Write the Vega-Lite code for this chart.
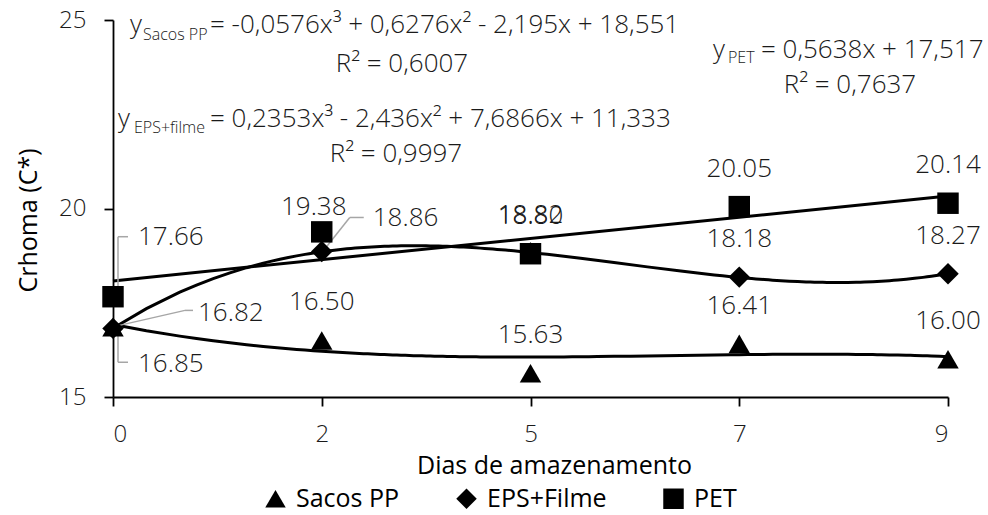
{
  "$schema": "https://vega.github.io/schema/vega-lite/v6.json",
  "width": 835,
  "height": 377,
  "autosize": {"type": "none"},
  "padding": {"left": 113, "top": 20, "right": 40, "bottom": 118},
  "background": "white",
  "config": {
    "view": {"stroke": null},
    "font": "Open Sans",
    "text": {"font": "Open Sans", "fontWeight": 300, "color": "#1a1a1a"},
    "axis": {"labelFont": "Open Sans", "labelFontWeight": 300, "titleFont": "Open Sans"},
    "legend": {"labelFont": "Open Sans"}
  },
  "data": {
    "values": [
      {"Embalagem": "Sacos PP", "Dia": 0, "Croma": 16.85},
      {"Embalagem": "Sacos PP", "Dia": 2, "Croma": 16.50},
      {"Embalagem": "Sacos PP", "Dia": 5, "Croma": 15.63},
      {"Embalagem": "Sacos PP", "Dia": 7, "Croma": 16.41},
      {"Embalagem": "Sacos PP", "Dia": 9, "Croma": 16.00},
      {"Embalagem": "EPS+Filme", "Dia": 0, "Croma": 16.82},
      {"Embalagem": "EPS+Filme", "Dia": 2, "Croma": 18.86},
      {"Embalagem": "EPS+Filme", "Dia": 5, "Croma": 18.82},
      {"Embalagem": "EPS+Filme", "Dia": 7, "Croma": 18.18},
      {"Embalagem": "EPS+Filme", "Dia": 9, "Croma": 18.27},
      {"Embalagem": "PET", "Dia": 0, "Croma": 17.66},
      {"Embalagem": "PET", "Dia": 2, "Croma": 19.38},
      {"Embalagem": "PET", "Dia": 5, "Croma": 18.80},
      {"Embalagem": "PET", "Dia": 7, "Croma": 20.05},
      {"Embalagem": "PET", "Dia": 9, "Croma": 20.14}
    ]
  },
  "transform": [
    {"window": [{"op": "rank", "as": "ordem"}], "sort": [{"field": "Dia", "order": "ascending"}], "groupby": ["Embalagem"]}
  ],
  "encoding": {
    "x": {
      "field": "ordem", "type": "quantitative",
      "scale": {"domain": [1, 5], "nice": false, "zero": false},
      "axis": {
        "values": [1, 2, 3, 4, 5],
        "labelExpr": "['0','2','5','7','9'][datum.value - 1]",
        "title": "Dias de amazenamento",
        "titleFontSize": 25, "titleFontWeight": "normal", "titleColor": "#000000",
        "titleX": 441, "titleY": 76, "titleBaseline": "alphabetic", "titleAlign": "center",
        "labelFontSize": 24, "labelColor": "#1a1a1a", "labelPadding": 16,
        "grid": false, "domainColor": "#000000", "domainWidth": 1.8,
        "tickColor": "#000000", "tickWidth": 1.8, "tickSize": 9
      }
    },
    "y": {
      "field": "Croma", "type": "quantitative",
      "scale": {"domain": [15, 25], "nice": false, "zero": false},
      "axis": {
        "values": [15, 20, 25],
        "title": "Crhoma (C*)",
        "titleFontSize": 25, "titleFontWeight": "normal", "titleColor": "#000000",
        "titleX": -77, "titleY": 200, "titleAngle": -90, "titleBaseline": "alphabetic", "titleAlign": "center",
        "labelFontSize": 24, "labelColor": "#1a1a1a", "labelPadding": 18,
        "grid": false, "domainColor": "#000000", "domainWidth": 1.8,
        "tickColor": "#000000", "tickWidth": 1.8, "tickSize": 9
      }
    }
  },
  "layer": [
    {
      "transform": [
        {"filter": "datum.Embalagem !== 'PET'"},
        {"regression": "Croma", "on": "ordem", "groupby": ["Embalagem"], "method": "poly", "order": 3}
      ],
      "mark": {"type": "line", "color": "#000000", "strokeWidth": 3},
      "encoding": {"detail": {"field": "Embalagem"}}
    },
    {
      "transform": [
        {"filter": "datum.Embalagem === 'PET'"},
        {"regression": "Croma", "on": "ordem", "method": "linear"}
      ],
      "mark": {"type": "line", "color": "#000000", "strokeWidth": 3},
      "encoding": {}
    },
    {
      "transform": [{"filter": "datum.Embalagem === 'PET' && datum.Dia === 0"}],
      "mark": {"type": "rule", "color": "#a6a6a6", "strokeWidth": 1.5, "xOffset": 5, "yOffset": -4, "x2Offset": 5, "y2Offset": -60},
      "encoding": {"x2": {"field": "ordem"}, "y2": {"field": "Croma"}}
    },
    {
      "transform": [{"filter": "datum.Embalagem === 'PET' && datum.Dia === 0"}],
      "mark": {"type": "rule", "color": "#a6a6a6", "strokeWidth": 1.5, "xOffset": 5, "yOffset": -60, "x2Offset": 15, "y2Offset": -60},
      "encoding": {"x2": {"field": "ordem"}, "y2": {"field": "Croma"}}
    },
    {
      "transform": [{"filter": "datum.Embalagem === 'EPS+Filme' && datum.Dia === 0"}],
      "mark": {"type": "rule", "color": "#a6a6a6", "strokeWidth": 1.5, "xOffset": 2, "yOffset": -2, "x2Offset": 72, "y2Offset": -18},
      "encoding": {"x2": {"field": "ordem"}, "y2": {"field": "Croma"}}
    },
    {
      "transform": [{"filter": "datum.Embalagem === 'EPS+Filme' && datum.Dia === 0"}],
      "mark": {"type": "rule", "color": "#a6a6a6", "strokeWidth": 1.5, "xOffset": 72, "yOffset": -18, "x2Offset": 80, "y2Offset": -18},
      "encoding": {"x2": {"field": "ordem"}, "y2": {"field": "Croma"}}
    },
    {
      "transform": [{"filter": "datum.Embalagem === 'Sacos PP' && datum.Dia === 0"}],
      "mark": {"type": "rule", "color": "#a6a6a6", "strokeWidth": 1.5, "xOffset": 5, "yOffset": 7, "x2Offset": 5, "y2Offset": 35},
      "encoding": {"x2": {"field": "ordem"}, "y2": {"field": "Croma"}}
    },
    {
      "transform": [{"filter": "datum.Embalagem === 'Sacos PP' && datum.Dia === 0"}],
      "mark": {"type": "rule", "color": "#a6a6a6", "strokeWidth": 1.5, "xOffset": 5, "yOffset": 35, "x2Offset": 15, "y2Offset": 35},
      "encoding": {"x2": {"field": "ordem"}, "y2": {"field": "Croma"}}
    },
    {
      "transform": [{"filter": "datum.Embalagem === 'EPS+Filme' && datum.Dia === 2"}],
      "mark": {"type": "rule", "color": "#a6a6a6", "strokeWidth": 1.5, "xOffset": 1, "yOffset": 0, "x2Offset": 28, "y2Offset": -34},
      "encoding": {"x2": {"field": "ordem"}, "y2": {"field": "Croma"}}
    },
    {
      "transform": [{"filter": "datum.Embalagem === 'EPS+Filme' && datum.Dia === 2"}],
      "mark": {"type": "rule", "color": "#a6a6a6", "strokeWidth": 1.5, "xOffset": 28, "yOffset": -34, "x2Offset": 42, "y2Offset": -34},
      "encoding": {"x2": {"field": "ordem"}, "y2": {"field": "Croma"}}
    },
    {
      "mark": {"type": "point", "filled": true, "opacity": 1, "size": 460, "strokeWidth": 0, "color": "#000000"},
      "encoding": {
        "shape": {
          "field": "Embalagem", "type": "nominal",
          "scale": {"domain": ["Sacos PP", "EPS+Filme", "PET"], "range": ["triangle-up", "diamond", "square"]},
          "legend": {
            "title": null, "orient": "none", "direction": "horizontal",
            "legendX": 150, "legendY": 466,
            "labelFontSize": 25, "labelColor": "#000000", "labelFontWeight": "normal",
            "symbolSize": 420, "symbolFillColor": "#000000", "symbolStrokeColor": "#000000", "symbolStrokeWidth": 0,
            "labelOffset": 8, "columnPadding": 54, "symbolOffset": 0
          }
        }
      }
    },
    {
      "transform": [{"filter": "!((datum.Dia === 0) || (datum.Dia === 2 && datum.Embalagem !== 'Sacos PP'))"}],
      "mark": {"type": "text", "fontSize": 26, "align": "center", "baseline": "alphabetic", "dy": -30},
      "encoding": {"text": {"field": "Croma", "type": "quantitative", "format": ".2f"}}
    },
    {
      "transform": [{"filter": "datum.Embalagem === 'PET' && datum.Dia === 2"}],
      "mark": {"type": "text", "fontSize": 26, "align": "center", "baseline": "alphabetic", "dx": -8, "dy": -17},
      "encoding": {"text": {"field": "Croma", "type": "quantitative", "format": ".2f"}}
    },
    {
      "transform": [{"filter": "datum.Embalagem === 'PET' && datum.Dia === 0"}],
      "mark": {"type": "text", "fontSize": 26, "align": "left", "baseline": "alphabetic", "dx": 25, "dy": -52},
      "encoding": {"text": {"field": "Croma", "type": "quantitative", "format": ".2f"}}
    },
    {
      "transform": [{"filter": "datum.Embalagem === 'EPS+Filme' && datum.Dia === 0"}],
      "mark": {"type": "text", "fontSize": 26, "align": "left", "baseline": "alphabetic", "dx": 85, "dy": -7},
      "encoding": {"text": {"field": "Croma", "type": "quantitative", "format": ".2f"}}
    },
    {
      "transform": [{"filter": "datum.Embalagem === 'Sacos PP' && datum.Dia === 0"}],
      "mark": {"type": "text", "fontSize": 26, "align": "left", "baseline": "alphabetic", "dx": 25, "dy": 45},
      "encoding": {"text": {"field": "Croma", "type": "quantitative", "format": ".2f"}}
    },
    {
      "transform": [{"filter": "datum.Embalagem === 'EPS+Filme' && datum.Dia === 2"}],
      "mark": {"type": "text", "fontSize": 26, "align": "left", "baseline": "alphabetic", "dx": 51, "dy": -25},
      "encoding": {"text": {"field": "Croma", "type": "quantitative", "format": ".2f"}}
    },
    {
      "transform": [{"filter": "datum.Embalagem === 'Sacos PP' && datum.Dia === 0"}],
      "mark": {"type": "text", "fontSize": 26, "align": "left", "baseline": "alphabetic", "dx": 0},
      "encoding": {"x": {"datum": 1.0814}, "y": {"datum": 24.655}, "text": {"value": "y"}}
    },
    {
      "transform": [{"filter": "datum.Embalagem === 'Sacos PP' && datum.Dia === 0"}],
      "mark": {"type": "text", "fontSize": 16, "align": "left", "baseline": "alphabetic", "dx": 13, "dy": 7},
      "encoding": {"x": {"datum": 1.0814}, "y": {"datum": 24.655}, "text": {"value": "Sacos PP"}}
    },
    {
      "transform": [{"filter": "datum.Embalagem === 'Sacos PP' && datum.Dia === 0"}],
      "mark": {"type": "text", "fontSize": 26, "align": "left", "baseline": "alphabetic", "dx": 80},
      "encoding": {"x": {"datum": 1.0814}, "y": {"datum": 24.655}, "text": {"value": "= -0,0576x³ + 0,6276x² - 2,195x + 18,551"}}
    },
    {
      "transform": [{"filter": "datum.Embalagem === 'Sacos PP' && datum.Dia === 0"}],
      "mark": {"type": "text", "fontSize": 26, "align": "center", "baseline": "alphabetic"},
      "encoding": {"x": {"datum": 2.3844}, "y": {"datum": 23.6207}, "text": {"value": "R² = 0,6007"}}
    },
    {
      "transform": [{"filter": "datum.Embalagem === 'EPS+Filme' && datum.Dia === 0"}],
      "mark": {"type": "text", "fontSize": 26, "align": "left", "baseline": "alphabetic", "dx": 0},
      "encoding": {"x": {"datum": 1.024}, "y": {"datum": 22.1618}, "text": {"value": "y"}}
    },
    {
      "transform": [{"filter": "datum.Embalagem === 'EPS+Filme' && datum.Dia === 0"}],
      "mark": {"type": "text", "fontSize": 16, "align": "left", "baseline": "alphabetic", "dx": 16, "dy": 6},
      "encoding": {"x": {"datum": 1.024}, "y": {"datum": 22.1618}, "text": {"value": "EPS+filme"}}
    },
    {
      "transform": [{"filter": "datum.Embalagem === 'EPS+Filme' && datum.Dia === 0"}],
      "mark": {"type": "text", "fontSize": 26, "align": "left", "baseline": "alphabetic", "dx": 92},
      "encoding": {"x": {"datum": 1.024}, "y": {"datum": 22.1618}, "text": {"value": "= 0,2353x³ - 2,436x² + 7,6866x + 11,333"}}
    },
    {
      "transform": [{"filter": "datum.Embalagem === 'EPS+Filme' && datum.Dia === 0"}],
      "mark": {"type": "text", "fontSize": 26, "align": "center", "baseline": "alphabetic"},
      "encoding": {"x": {"datum": 2.3557}, "y": {"datum": 21.2334}, "text": {"value": "R² = 0,9997"}}
    },
    {
      "transform": [{"filter": "datum.Embalagem === 'PET' && datum.Dia === 0"}],
      "mark": {"type": "text", "fontSize": 26, "align": "left", "baseline": "alphabetic", "dx": 0},
      "encoding": {"x": {"datum": 3.8743}, "y": {"datum": 23.992}, "text": {"value": "y"}}
    },
    {
      "transform": [{"filter": "datum.Embalagem === 'PET' && datum.Dia === 0"}],
      "mark": {"type": "text", "fontSize": 16, "align": "left", "baseline": "alphabetic", "dx": 15, "dy": 5},
      "encoding": {"x": {"datum": 3.8743}, "y": {"datum": 23.992}, "text": {"value": "PET"}}
    },
    {
      "transform": [{"filter": "datum.Embalagem === 'PET' && datum.Dia === 0"}],
      "mark": {"type": "text", "fontSize": 26, "align": "left", "baseline": "alphabetic", "dx": 48},
      "encoding": {"x": {"datum": 3.8743}, "y": {"datum": 23.992}, "text": {"value": "= 0,5638x + 17,517"}}
    },
    {
      "transform": [{"filter": "datum.Embalagem === 'PET' && datum.Dia === 0"}],
      "mark": {"type": "text", "fontSize": 26, "align": "center", "baseline": "alphabetic"},
      "encoding": {"x": {"datum": 4.5305}, "y": {"datum": 23.0637}, "text": {"value": "R² = 0,7637"}}
    }
  ]
}
